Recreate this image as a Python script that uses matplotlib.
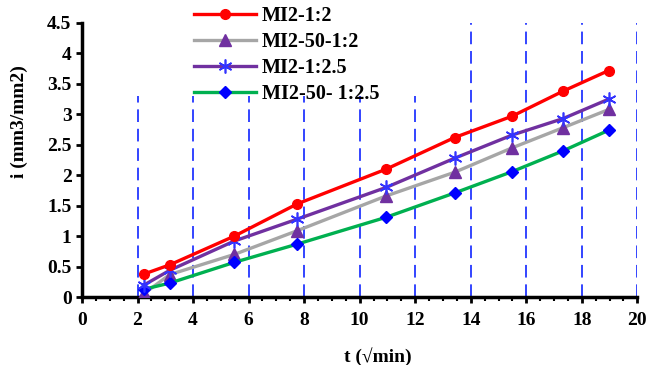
import matplotlib
matplotlib.use("Agg")
import matplotlib.pyplot as plt
from matplotlib.patches import Rectangle
from matplotlib.ticker import MultipleLocator

plt.rcParams["font.family"] = ["Liberation Serif", "DejaVu Serif"]
plt.rcParams["font.weight"] = "bold"

# time in sqrt(min)
t = [2.24, 3.16, 5.48, 7.75, 10.95, 13.42, 15.49, 17.32, 18.97]

mi2_12 = [0.38, 0.53, 1.0, 1.53, 2.1, 2.62, 2.97, 3.38, 3.72]
mi2_50_12 = [0.06, 0.37, 0.7, 1.09, 1.66, 2.05, 2.45, 2.78, 3.08]
mi2_125 = [0.2, 0.44, 0.92, 1.28, 1.8, 2.28, 2.66, 2.93, 3.25]
mi2_50_125 = [0.13, 0.23, 0.57, 0.87, 1.31, 1.71, 2.06, 2.4, 2.74]

labels = ["MI2-1:2", "MI2-50-1:2", "MI2-1:2.5", "MI2-50- 1:2.5"]

fig = plt.figure(figsize=(6.51, 3.65), dpi=100)
ax = fig.add_axes([0.126, 0.186, 0.853, 0.751])

ax.plot(t, mi2_12, color="#FF0000", lw=2.4, marker="o", ms=7, mfc="#FF0000", mec="#FF0000", label=labels[0], zorder=4)
ax.plot(t, mi2_50_12, color="#A6A6A6", lw=2.4, marker="^", ms=8, mfc="#7030A0", mec="#7030A0", label=labels[1], zorder=3)
ax.plot(t, mi2_125, color="#7030A0", lw=2.4, marker=(6, 2, 0), ms=10, mfc="#3333FF", mec="#3333FF", mew=1.2, label=labels[2], zorder=3.5)
ax.plot(t, mi2_50_125, color="#00B050", lw=2.4, marker="D", ms=6, mfc="#0000FF", mec="#0000FF", label=labels[3], zorder=3)

ax.set_xlim(0, 20)
ax.set_ylim(0, 4.5)
ax.xaxis.set_major_locator(MultipleLocator(2))
ax.xaxis.set_minor_locator(MultipleLocator(0.5))
ax.set_yticks([0, 0.5, 1, 1.5, 2, 2.5, 3, 3.5, 4, 4.5])
ax.set_yticklabels(["0", "0.5", "1", "1.5", "2", "2.5", "3", "3.5", "4", "4.5"])

ax.grid(axis="x", which="major", color="#3344FF", ls=(0, (6.5, 3.5)), lw=1.4)
ax.grid(axis="y", visible=False)

# white box behind legend hides the grid lines
ax.add_patch(Rectangle((0.07, 0.735), 0.56, 0.4, transform=ax.transAxes,
                       facecolor="white", edgecolor="none", zorder=2, clip_on=False))

for side in ("top", "right"):
    ax.spines[side].set_visible(False)
for side in ("left", "bottom"):
    ax.spines[side].set_linewidth(2.5)

ax.tick_params(axis="both", which="major", labelsize=14, width=2, length=4, direction="out")
ax.tick_params(axis="x", which="minor", width=1.5, length=3, direction="out")
ax.tick_params(axis="x", which="major", pad=7)

ax.set_xlabel("t (\u221amin)", fontsize=14, fontweight="bold")
ax.set_ylabel("i (mm3/mm2)", fontsize=14, fontweight="bold")
ax.xaxis.set_label_coords(0.533, -0.182)
ax.yaxis.set_label_coords(-0.097, 0.642)

leg = fig.legend(loc="upper left", bbox_to_anchor=(0.285, 1.005), frameon=False,
                 fontsize=14.5, handlelength=3.1, labelspacing=0.3, handletextpad=0.3,
                 borderaxespad=0)
for text in leg.get_texts():
    text.set_fontweight("bold")

fig.savefig("out.png", dpi=100)
